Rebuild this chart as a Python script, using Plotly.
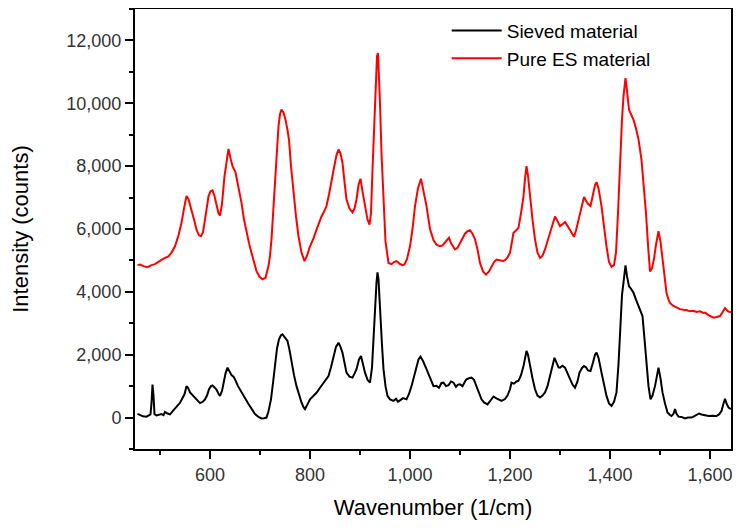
import plotly.graph_objects as go

# Pure ES material (red)
es_wavenumber = [455, 460, 467, 473, 477, 483, 490, 497, 503, 510, 517, 523, 530, 537, 543, 548, 553, 557, 563, 568,
                 573, 578, 582, 586, 590, 594, 597, 601, 605, 609, 613, 617, 620, 624, 629, 633, 637, 641, 645, 651,
                 657, 663, 668, 673, 678, 683, 688, 693, 699, 705, 711, 717, 720, 723, 727, 730, 734, 737, 740, 743,
                 747, 751, 755, 758, 762, 767, 772, 777, 783, 789, 794, 800, 807, 813, 818, 823, 828, 833, 838, 843,
                 848, 853, 857, 861, 865, 869, 873, 879, 885, 889, 893, 897, 901, 905, 910, 915, 919, 922, 925, 928,
                 931, 934, 936, 938, 940, 943, 947, 951, 957, 963, 968, 973, 979, 985, 989, 994, 1000, 1005, 1010, 1016,
                 1022, 1027, 1033, 1040, 1047, 1053, 1060, 1065, 1070, 1074, 1078, 1082, 1087, 1090, 1095, 1100, 1105, 1110, 1115, 1120,
                 1125, 1130, 1135, 1140, 1146, 1152, 1158, 1163, 1168, 1173, 1180, 1186, 1190, 1195, 1200, 1204, 1207, 1212, 1217, 1222,
                 1227, 1230, 1233, 1236, 1240, 1245, 1250, 1255, 1260, 1265, 1270, 1275, 1280, 1285, 1290, 1295, 1300, 1305, 1310, 1315,
                 1320, 1324, 1328, 1332, 1337, 1342, 1348, 1352, 1356, 1361, 1366, 1370, 1373, 1377, 1383, 1388, 1393, 1398, 1403, 1408,
                 1412, 1416, 1420, 1424, 1427, 1431, 1434, 1438, 1442, 1447, 1452, 1457, 1463, 1468, 1472, 1476, 1480, 1484, 1488, 1492,
                 1497, 1501, 1505, 1509, 1513, 1517, 1520, 1526, 1533, 1540, 1547, 1553, 1560, 1567, 1573, 1580, 1587, 1590, 1597, 1603,
                 1607, 1613, 1620, 1625, 1630, 1636, 1642]
es_intensity = [4850, 4870, 4820, 4790, 4800, 4850, 4880, 4970, 5020, 5080, 5130, 5250, 5450, 5800, 6200, 6650, 7050, 6950, 6620, 6300,
                5980, 5800, 5770, 5900, 6300, 6700, 7040, 7200, 7230, 7050, 6720, 6500, 6430, 6800, 7680, 8200, 8550, 8250, 8000, 7800,
                7350, 6830, 6300, 5880, 5550, 5240, 4920, 4660, 4480, 4400, 4450, 4820, 5150, 5670, 6700, 7570, 8600, 9270, 9650, 9800,
                9700, 9480, 9150, 8840, 8000, 7150, 6400, 5770, 5250, 4980, 5150, 5450, 5700, 5980, 6200, 6400, 6550, 6730, 7100, 7470,
                7950, 8350, 8530, 8400, 8100, 7500, 6940, 6650, 6530, 6650, 6940, 7400, 7600, 7200, 6730, 6300, 6140, 6500, 7890, 9300,
                10540, 11500, 11600, 11000, 10000, 8400, 6730, 5600, 4920, 4880, 4950, 4980, 4900, 4850, 4870, 5050, 5450, 6000, 6730, 7300,
                7600, 7250, 6730, 6000, 5650, 5500, 5450, 5480, 5560, 5650, 5720, 5550, 5400, 5350, 5400, 5550, 5700, 5850, 5930, 5960,
                5850, 5670, 5350, 4920, 4650, 4550, 4650, 4820, 4950, 5030, 5000, 4980, 5010, 5100, 5240, 5600, 5880, 5950, 6040, 6500,
                7040, 7600, 8000, 7700, 7040, 6300, 5670, 5250, 5080, 5150, 5350, 5600, 5880, 6150, 6400, 6250, 6090, 6150, 6220, 6100,
                5980, 5850, 5750, 5950, 6300, 6700, 7020, 6900, 6800, 6730, 7100, 7400, 7490, 7300, 6730, 6050, 5450, 4950, 4800, 4850,
                5250, 6500, 8200, 9500, 10220, 10800, 10400, 9800, 9650, 9480, 9200, 8850, 8200, 7300, 6500, 5500, 4650, 4750, 5050, 5500,
                5930, 5600, 5030, 4450, 3970, 3750, 3650, 3560, 3500, 3450, 3430, 3420, 3380, 3400, 3360, 3380, 3330, 3340, 3260, 3200,
                3180, 3200, 3230, 3350, 3480, 3380, 3350]

# Sieved material (black)
sieved_wavenumber = [455, 460, 466, 473, 478, 481, 483, 485, 487, 489, 493, 497, 503, 507, 510, 515, 520, 525, 530, 535,
                     540, 545, 549, 553, 556, 560, 565, 570, 575, 580, 585, 590, 594, 598, 602, 605, 609, 613, 617, 620,
                     624, 627, 631, 635, 639, 643, 647, 650, 656, 663, 670, 677, 684, 690, 697, 703, 708, 713, 717, 722,
                     726, 730, 734, 738, 742, 745, 749, 755, 759, 763, 768, 773, 778, 783, 787, 790, 795, 800, 806, 813,
                     820, 827, 832, 837, 842, 847, 852, 857, 861, 865, 869, 873, 879, 885, 889, 893, 898, 902, 906, 910,
                     915, 920, 924, 927, 930, 933, 935, 937, 939, 941, 944, 947, 951, 955, 960, 967, 972, 976, 980, 986,
                     993, 998, 1003, 1008, 1013, 1017, 1021, 1026, 1033, 1040, 1047, 1053, 1058, 1063, 1067, 1072, 1077, 1082, 1087, 1092,
                     1096, 1100, 1105, 1110, 1113, 1118, 1123, 1128, 1133, 1138, 1143, 1148, 1155, 1160, 1167, 1172, 1177, 1183, 1190, 1195,
                     1200, 1203, 1208, 1213, 1217, 1222, 1227, 1230, 1233, 1236, 1240, 1245, 1250, 1255, 1260, 1265, 1270, 1275, 1280, 1285,
                     1289, 1293, 1297, 1300, 1305, 1310, 1315, 1320, 1325, 1330, 1335, 1339, 1344, 1348, 1352, 1356, 1361, 1366, 1370, 1373,
                     1377, 1383, 1388, 1393, 1398, 1403, 1408, 1413, 1417, 1421, 1424, 1427, 1431, 1434, 1438, 1442, 1447, 1452, 1457, 1461,
                     1465, 1469, 1473, 1477, 1481, 1485, 1490, 1494, 1497, 1501, 1505, 1510, 1515, 1520, 1523, 1527, 1530, 1533, 1537, 1543,
                     1550, 1556, 1563, 1568, 1573, 1578, 1583, 1590, 1597, 1605, 1613, 1618, 1623, 1627, 1630, 1633, 1637, 1642]
sieved_intensity = [120, 80, 40, 30, 60, 100, 450, 1050, 700, 110, 70, 80, 110, 80, 180, 130, 100, 200, 310, 380,
                    470, 600, 740, 1000, 950, 800, 720, 640, 540, 460, 500, 580, 700, 900, 1000, 1020, 960, 890, 760, 690,
                    850, 1100, 1400, 1590, 1480, 1350, 1300, 1220, 1000, 800, 600, 430, 260, 110, 20, -30, -20, 0, 200, 580,
                    1100, 1750, 2200, 2490, 2620, 2650, 2550, 2440, 2150, 1750, 1350, 1000, 720, 480, 330, 270, 420, 580, 680, 790,
                    950, 1110, 1200, 1320, 1600, 1960, 2250, 2380, 2250, 2060, 1700, 1430, 1300, 1270, 1400, 1540, 1850, 1960, 1700, 1430,
                    1200, 1110, 1600, 2600, 3500, 4300, 4620, 4400, 3800, 3330, 2300, 1540, 1000, 690, 580, 530, 600, 500, 560, 620,
                    580, 750, 1000, 1300, 1640, 1850, 1940, 1800, 1540, 1250, 1000, 1010, 950, 1100, 1110, 1000, 1030, 1150, 1110, 980,
                    1050, 1060, 1000, 1150, 1220, 1250, 1270, 1200, 1000, 780, 580, 480, 420, 520, 670, 620, 580, 530, 590, 700,
                    900, 1110, 1080, 1150, 1170, 1350, 1640, 1950, 2120, 2000, 1640, 1250, 900, 700, 640, 700, 800, 1000, 1320, 1650,
                    1900, 1750, 1600, 1590, 1650, 1590, 1400, 1220, 1050, 950, 1150, 1430, 1580, 1640, 1600, 1500, 1480, 1750, 2000, 2070,
                    1900, 1430, 1000, 690, 450, 370, 500, 800, 1700, 3120, 3900, 4300, 4840, 4500, 4180, 4100, 3970, 3750, 3550, 3350,
                    3230, 2500, 1640, 1000, 580, 700, 1000, 1350, 1590, 1250, 800, 450, 160, 80, 50, 120, 270, 120, 30, 20,
                    -30, 0, 0, 40, 80, 130, 100, 80, 50, 60, 50, 100, 210, 450, 600, 450, 320, 270]

x_range = [450, 1642]
y_range = [-1000, 13000]
x_ticks = [600, 800, 1000, 1200, 1400, 1600]
y_ticks = [0, 2000, 4000, 6000, 8000, 10000, 12000]

FONT = "Liberation Sans, Arial, sans-serif"

fig = go.Figure()
fig.add_trace(go.Scatter(x=sieved_wavenumber, y=sieved_intensity, mode="lines",
                         name="Sieved material", line=dict(color="#000000", width=2)))
fig.add_trace(go.Scatter(x=es_wavenumber, y=es_intensity, mode="lines",
                         name="Pure ES material", line=dict(color="#ff0000", width=2)))

axis_common = dict(
    showline=True, linecolor="#000000", linewidth=2, mirror=True,
    showgrid=False, zeroline=False, ticks="outside", tickcolor="#000000",
    tickwidth=1.5, ticklen=8, automargin=False,
    tickfont=dict(family=FONT, size=18, color="#333333"),
)

# the page body has an 8px default margin, so the figure is sized to fit the window
fig.update_layout(
    width=737, height=522,
    margin=dict(l=127, r=14, t=1, b=81),
    paper_bgcolor="white", plot_bgcolor="white",
    font=dict(family=FONT, color="#000000"),
    xaxis=dict(range=x_range, tickvals=x_ticks, tickformat=",d",
               title=dict(text="Wavenumber (1/cm)", font=dict(family=FONT, size=22, color="#000000"), standoff=16),
               minor=dict(ticks="outside", dtick=100, tick0=0, ticklen=4, tickwidth=1.5, tickcolor="#000000", showgrid=False),
               **axis_common),
    yaxis=dict(range=y_range, tickvals=y_ticks, tickformat=",d",
               title=dict(text="Intensity (counts)", font=dict(family=FONT, size=22, color="#000000"), standoff=36),
               minor=dict(ticks="outside", dtick=1000, tick0=0, ticklen=4, tickwidth=1.5, tickcolor="#000000", showgrid=False),
               **axis_common),
    legend=dict(x=0.523, y=0.994, xanchor="left", yanchor="top",
                bgcolor="rgba(0,0,0,0)", borderwidth=0,
                font=dict(family=FONT, size=19, color="#000000"),
                itemwidth=50, tracegroupgap=0),
    showlegend=True,
)

fig.write_html("out.html")
